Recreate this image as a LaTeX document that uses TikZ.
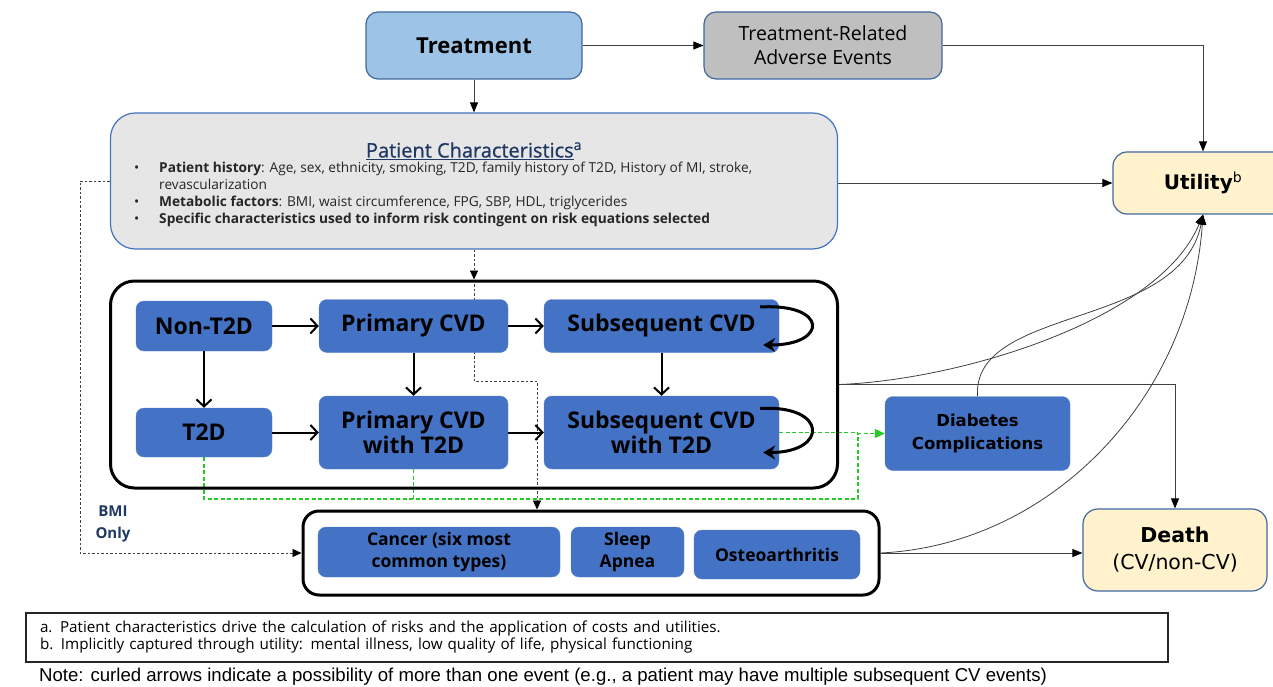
\documentclass[tikz,border=0pt]{standalone}
\usepackage{fontspec}
\setmainfont{Open Sans}
\newfontfamily\dejavu{DejaVu Sans}
\newfontfamily\arialfont{Liberation Sans}
\newfontfamily\titlefont[FakeBold=0.8]{Open Sans}
\usetikzlibrary{arrows.meta,backgrounds}

\definecolor{stateblue}{HTML}{4472C4}
\definecolor{stateline}{HTML}{5B83CB}
\definecolor{treatblue}{HTML}{9DC3E6}
\definecolor{boxline}{HTML}{41679F}
\definecolor{aegrey}{HTML}{BFBFBF}
\definecolor{pcgrey}{HTML}{E7E6E6}
\definecolor{outyellow}{HTML}{FFF2CC}
\definecolor{navy}{HTML}{1F3864}
\definecolor{linkgrey}{HTML}{404040}
\definecolor{dashgreen}{HTML}{22CC22}

\newcommand\pitem{\makebox[25pt][l]{\textbullet}}

\tikzset{
  state/.style={draw=stateline, fill=stateblue, rounded corners=8pt, align=center,
    inner sep=0pt, font=\bfseries\fontsize{23}{25}\selectfont},
  event/.style={state, font=\bfseries\fontsize{17.5}{22}\selectfont},
  topbox/.style={draw=boxline, line width=1.2pt, rounded corners=12pt, align=center, inner sep=0pt},
  outcome/.style={topbox, fill=outyellow, rounded corners=14pt},
  frame/.style={draw=black, line width=3pt, rounded corners=24pt},
  link/.style={draw=linkgrey, line width=0.8pt, -{Triangle[length=10pt,width=8pt,color=black]}},
  move/.style={line width=2pt, -{Straight Barb[length=7pt,width=15pt]}},
  curl/.style={line width=3pt, -{Stealth[length=12pt,width=14pt]}},
  bmi/.style={draw=linkgrey, line width=0.9pt, dash pattern=on 2.5pt off 2pt,
    -{Triangle[length=9pt,width=8pt,color=black]}},
  comp/.style={draw=dashgreen, line width=1.1pt, dash pattern=on 4pt off 2.5pt},
}

\begin{document}
\begin{tikzpicture}[x=1pt,y=-1pt]
  \useasboundingbox (0,0) rectangle (1273,687);

  % top row
  \node[topbox, fill=treatblue, minimum width=216pt, minimum height=67pt,
    font=\bfseries\fontsize{22}{26}\selectfont] (treat) at (474,45.5) {Treatment};
  \node[topbox, fill=aegrey, minimum width=238pt, minimum height=67pt,
    font=\fontsize{19.5}{24}\selectfont] (trae) at (823,45.5) {Treatment-Related\\Adverse Events};
  \node[outcome, minimum width=180pt, minimum height=62pt,
    font=\dejavu\bfseries\fontsize{20}{24}\selectfont] (util) at (1203,183) {Utility\textsuperscript{\mdseries b}};

  % patient characteristics
  \node[topbox, fill=pcgrey, draw=stateblue, rounded corners=25pt, minimum width=727pt,
    minimum height=136pt] (pchar) at (474,181) {};
  \node[font=\titlefont\fontsize{20}{24}\selectfont, text=navy] (ptitle) at (474,151)
    {\underline{Patient Characteristics}\textsuperscript{a}};
  \node[anchor=north west, align=left, inner sep=0pt, text=black!85,
    font=\fontsize{13.7}{17}\selectfont] (plist) at (134,162)
    {\pitem\textbf{Patient history}: Age, sex, ethnicity, smoking, T2D, family history of T2D, History of MI, stroke,\\
     \hspace*{25pt}revascularization\\
     \pitem\textbf{Metabolic factors}: BMI, waist circumference, FPG, SBP, HDL, triglycerides\\
     \pitem\textbf{Specific characteristics used to inform risk contingent on risk equations selected}};

  % health states
  \node[frame, minimum width=727pt, minimum height=207pt] (big) at (474,384.5) {};
  \node[state, minimum width=136pt, minimum height=50pt] (nont2d) at (204,326) {Non-T2D};
  \node[state, minimum width=189pt, minimum height=53pt] (pcvd) at (413.5,326) {Primary CVD};
  \node[state, minimum width=235pt, minimum height=53pt] (scvd) at (661.5,326) {Subsequent CVD};
  \node[state, minimum width=136pt, minimum height=49pt] (t2d) at (204,432.5) {T2D};
  \node[state, minimum width=189pt, minimum height=73pt] (pcvdt) at (413.5,432.5) {Primary CVD\\with T2D};
  \node[state, minimum width=235pt, minimum height=73pt] (scvdt) at (661.5,432.5) {Subsequent CVD\\with T2D};
  \node[state, minimum width=185pt, minimum height=74pt,
    font=\dejavu\bfseries\fontsize{16.5}{23}\selectfont] (diab) at (977.5,433.5) {Diabetes\\Complications};

  % BMI related events
  \node[frame, rounded corners=16pt, minimum width=576pt, minimum height=84pt] (low) at (591,553) {};
  \node[event, minimum width=242pt, minimum height=50pt] (cancer) at (439,552) {Cancer (six most\\common types)};
  \node[event, minimum width=113pt, minimum height=50pt] (sleep) at (627.5,552) {Sleep\\Apnea};
  \node[event, minimum width=166pt, minimum height=49pt] (osteo) at (777,554.5) {Osteoarthritis};
  \node[font=\bfseries\fontsize{15}{22}\selectfont, text=navy, align=center] (bmi) at (113,524) {BMI\\Only};

  \node[outcome, rounded corners=15pt, minimum width=184pt, minimum height=82pt,
    font=\dejavu\fontsize{20.5}{27}\selectfont] (death) at (1175,550) {\textbf{Death}\\(CV/non-CV)};

  % footnotes
  \node[draw=black!85, line width=1.2pt, minimum height=49pt, text width=1114pt, inner xsep=14pt,
    align=left, font=\fontsize{15.2}{17}\selectfont] (notes) at (597,637.5)
    {a. Patient characteristics drive the calculation of risks and the application of costs and utilities.\\
     b. Implicitly captured through utility: mental illness, low quality of life, physical functioning};
  \node[anchor=west, inner sep=0pt, font=\arialfont\fontsize{18.6}{20}\selectfont] (note) at (39,677)
    {Note: curled arrows indicate a possibility of more than one event (e.g., a patient may have multiple subsequent CV events)};

  \coordinate (kink) at (537,381);
  \coordinate (bmicorner) at (80,553);
  \coordinate (gcorner) at (858,499);

  \begin{pgfonlayer}{background}
    \draw[link] (treat) -- (trae);
    \draw[link] (treat) -- (pchar);
    \draw[link] (trae) -| (util);
    \draw[link] (pchar.east |- util) -- (util);
    \draw[bmi] (pchar) -- (big);
    \draw[bmi] (big.north) |- (kink) -- (kink |- low.north);
    \draw[bmi] (pchar.west) -| (bmicorner) -- (low);
    \draw[comp] (pcvdt) -- (pcvdt |- gcorner);
    \draw[comp] (scvdt) -- (scvdt -| gcorner);
    \draw[comp, -{Triangle[length=10pt,width=9pt]}] (t2d) |- (gcorner) |- (diab);
    \draw[link] (diab.north) .. controls (972,305) and (1180,330) .. (util.south);
    \draw[link] (big.east) .. controls (960,380) and (1160,320) .. (util.south);
    \draw[link] (low.east) .. controls (1050,545) and (1190,400) .. (util.south);
    \draw[link] (big.east) -| (death);
    \draw[link] (low.east) -- (low.east -| death.west);
  \end{pgfonlayer}

  \draw[move] (nont2d) -- (pcvd);
  \draw[move] (pcvd) -- (scvd);
  \draw[move] (nont2d) -- (t2d);
  \draw[move] (pcvd) -- (pcvdt);
  \draw[move] (scvd) -- (scvdt);
  \draw[move] (t2d) -- (pcvdt);
  \draw[move] (pcvdt) -- (scvdt);
  \draw[curl] ([shift={(-19,-19)}]scvd.east) .. controls +(68,-4) and +(65,0) .. ([shift={(-16,19)}]scvd.east);
  \draw[curl] ([shift={(-19,-24)}]scvdt.east) .. controls +(68,-4) and +(65,0) .. ([shift={(-16,20)}]scvdt.east);
\end{tikzpicture}
\end{document}
